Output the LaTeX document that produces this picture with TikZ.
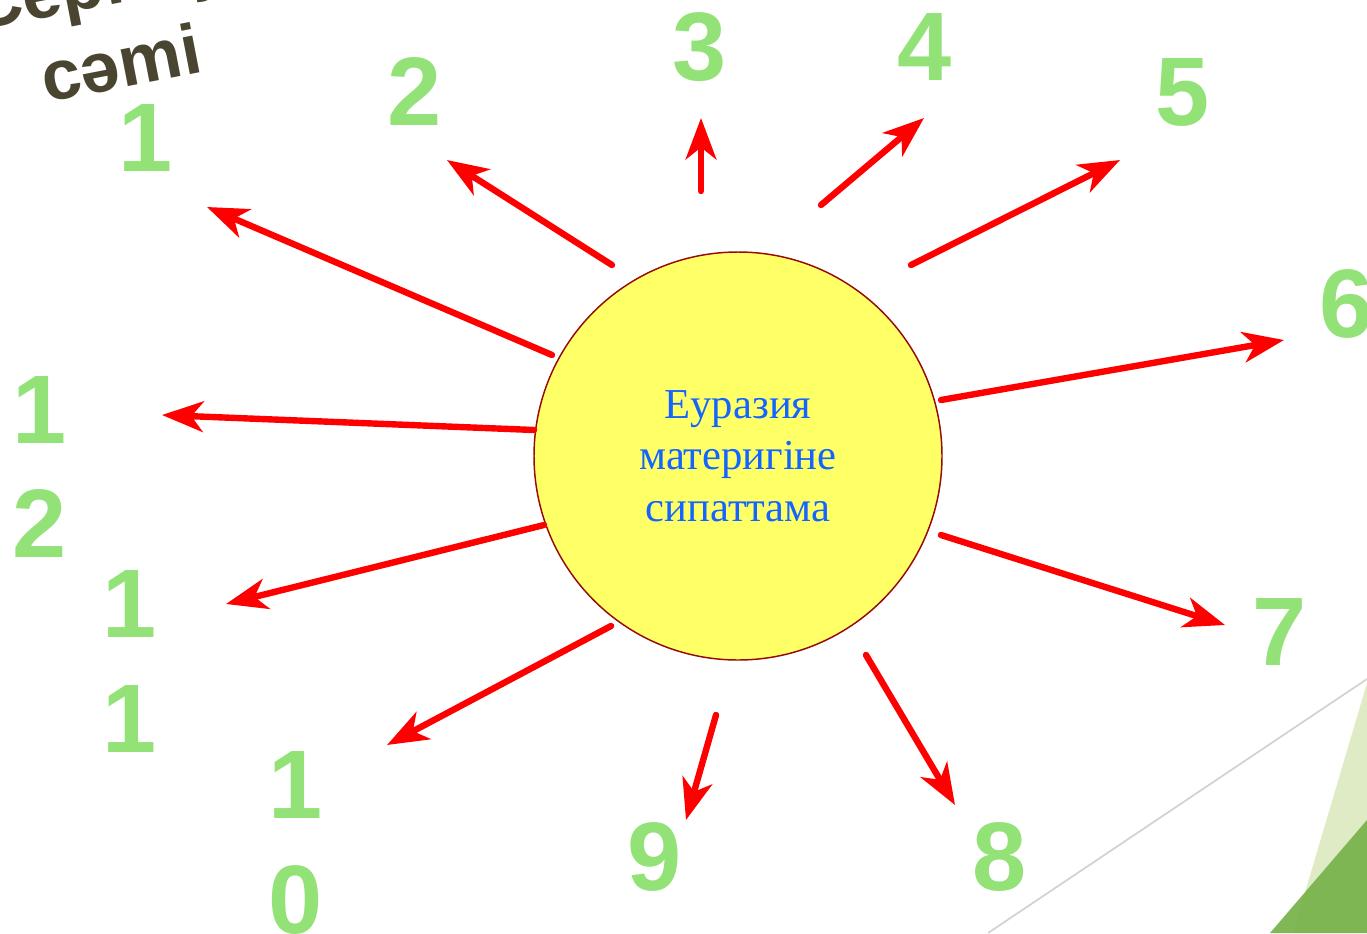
\documentclass[tikz,border=0pt]{standalone}
\usepackage{fontspec}
\setmainfont{Liberation Serif}
\newfontfamily\numfont{Liberation Sans}
\usetikzlibrary{arrows.meta}
\definecolor{numgreen}{RGB}{146,226,120}
\definecolor{titlebrown}{RGB}{74,69,48}
\definecolor{sunfill}{RGB}{255,255,102}
\definecolor{sunborder}{RGB}{150,10,10}
\definecolor{sunblue}{RGB}{20,100,255}
\definecolor{lightleaf}{RGB}{222,235,196}
\definecolor{darkleaf}{RGB}{122,180,78}
\definecolor{edgegray}{RGB}{210,210,210}
\tikzset{
  arr/.style={draw=red, line width=4.8pt, line cap=round,
    -{Stealth[length=31pt, width=23pt, inset=9pt]}},
  num/.style={text=numgreen, font=\numfont\bfseries\fontsize{73}{86}\selectfont, anchor=base, inner sep=0pt},
  title/.style={text=titlebrown, font=\numfont\bfseries\fontsize{53}{64}\selectfont, anchor=base west, inner sep=0pt, rotate=11},
}
\begin{document}
\begin{tikzpicture}[x=0.75pt,y=-0.75pt]
\useasboundingbox (0,0) rectangle (1367,933);
\clip (0,0) rectangle (1367,933);
% background decoration
\coordinate (g1) at (988,933);
\coordinate (g2) at (1367,679);
\draw[edgegray, line width=1.3pt] (g1) -- (g2);
\fill[lightleaf] (1367,683) -- (1293,933) -- (1367,933) -- cycle;
\fill[darkleaf, opacity=0.95] (1367,820) -- (1270,933) -- (1367,933) -- cycle;
% title
\node[title] (ttl1) at (-24,31) {Сергіту};
\node[title] (ttl2) at (46,103) {сәmі};
% central circle
\node[circle, draw=sunborder, line width=1.1pt, fill=sunfill, minimum size=306pt, inner sep=0pt,
  text=sunblue, align=center, font=\fontsize{32}{38.6}\selectfont] (sun) at (738,456)
  {Еуразия\\материгіне\\сипаттама};
% arrows
\foreach \i/\sx/\sy/\tx/\ty in {
  1/552/355/207/207, 2/612/265/447/160, 3/701/191/701/118, 4/821/205/924/118,
  5/911/265/1120/160, 6/941/400/1284/340, 7/941/535/1225/625, 8/866/655/955/805,
  9/716/715/686/820, 10/611/626/387/745, 11/544/525/226/604, 12/534/430/162/415}{
  \coordinate (s\i) at (\sx,\sy);
  \coordinate (t\i) at (\tx,\ty);
  \draw[arr] (s\i) -- (t\i);
}
% numbers
\node[num] (n1) at (146,171) {1};
\node[num] (n2) at (415,125) {2};
\node[num] (n3) at (700,80) {3};
\node[num] (n4) at (925,80) {4};
\node[num] (n5) at (1183,125) {5};
\node[num] (n6) at (1347,337) {6};
\node[num] (n7) at (1280,665) {7};
\node[num] (n8) at (1000,890) {8};
\node[num] (n9) at (655,890) {9};
\node[num] (n10a) at (296,818) {1};
\node[num] (n10b) at (296,933) {0};
\node[num] (n11a) at (130,637) {1};
\node[num] (n11b) at (130,752) {1};
\node[num] (n12a) at (40,443) {1};
\node[num] (n12b) at (40,557) {2};
\end{tikzpicture}
\end{document}
